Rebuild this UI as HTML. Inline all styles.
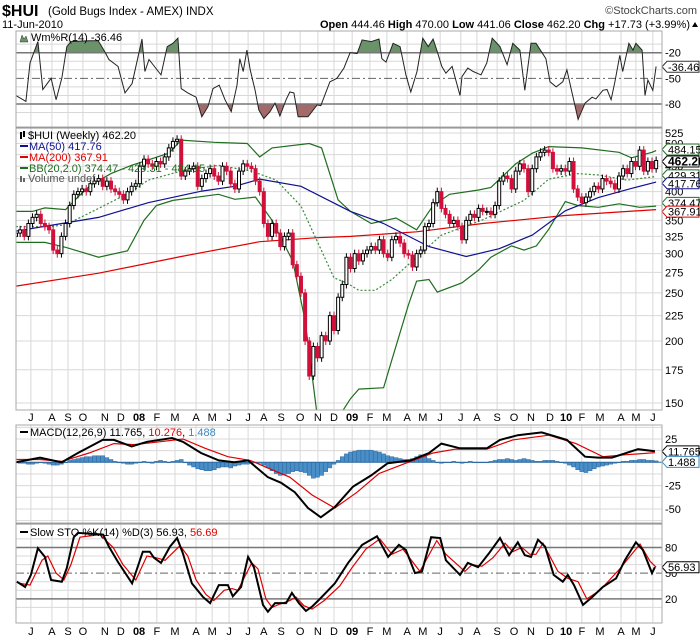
<!DOCTYPE html>
<html><head><meta charset="utf-8">
<style>
html,body{margin:0;padding:0;background:#fff;}
body{width:700px;height:639px;overflow:hidden;font-family:"Liberation Sans","DejaVu Sans",sans-serif;}
svg text{font-family:"Liberation Sans","DejaVu Sans",sans-serif;}
</style></head>
<body>
<svg id="chart" width="700" height="639" viewBox="0 0 700 639" xmlns="http://www.w3.org/2000/svg"></svg>
<script>
// ===== DATA =====
const monthLabels = ["J","A","S","O","N","D","08","F","M","A","M","J","J","A","S","O","N","D","09","F","M","A","M","J","J","A","S","O","N","D","10","F","M","A","M","J"];
const monthWeeks = [3.6,8.7,12.6,16.2,21.5,25.4,29.8,34.1,38.5,43.6,47.5,51.6,56.2,60,64.2,68.8,73.1,77,81.4,85.7,89.8,94.7,98.5,102.7,107.7,111.6,116.5,120.6,124.7,129.3,133.2,137,141.4,146.5,150.1,154.2];
const closes = [330,335,325,345,355,360,345,340,335,305,300,325,345,375,395,400,405,400,415,420,425,410,420,405,400,395,385,400,410,415,450,465,455,450,460,455,470,490,505,510,430,440,445,450,410,425,435,445,430,420,450,440,415,405,440,455,450,445,420,400,345,325,345,330,310,325,330,285,270,250,200,170,195,185,205,200,225,210,245,260,295,280,300,290,300,305,310,305,320,300,295,320,325,315,300,298,282,300,305,340,345,380,400,370,360,345,350,340,320,350,360,355,370,365,365,360,375,420,430,425,405,440,455,445,400,445,470,480,485,480,445,440,445,440,460,405,390,380,390,400,410,405,425,420,415,405,430,445,435,460,450,485,440,460,445,462.2];
const firstOpen = 325;
const ma50Weeks = [0,20,32,45,53,59,69,81,89,100,109,117,125,133,141,149,155];
const ma50Vals = [333,355,380,401,410,424,410,365,345,310,296,307,327,366,389,406,418];
const ma200Weeks = [0,20,40,59,73,81,97,113,133,155];
const ma200Vals = [258,274,296,317,323,325,332,345,358,368];
const bbUpWeeks = [0,4,7,12,15,18,23,28,37,40,48,56,59,62,71,74,78,81,86,92,97,101,105,112,115,121,125,129,137,146,149,154,155];
const bbUpVals = [365,365,371,368,390,412,435,452,478,508,503,500,470,490,500,490,385,365,345,354,335,375,395,403,408,455,478,493,490,480,468,480,484];
const bbLoWeeks = [0,7,12,20,27,31,34,38,49,53,58,62,67,70,73,76,78,81,83,89,91,95,97,100,102,108,112,115,120,123,126,129,133,136,141,146,151,155];
const bbLoVals = [316,316,309,295,304,350,375,384,395,386,390,350,290,220,140,120,140,153,160,161,183,236,264,266,251,262,278,295,311,305,311,336,382,375,372,378,372,374];
const bbMidWeeks = [0,8,12,20,28,32,40,49,57,63,69,74,77,80,83,87,91,97,103,113,123,129,136,141,148,155];
const bbMidVals = [340,340,343,370,400,422,440,452,440,422,374,304,268,262,253,253,266,295,327,351,384,424,435,432,422,429];
const wmWeeks = [0,2.4,3.4,5.3,6.5,8.5,9.7,11.1,12.3,13.3,17.7,19.9,21.5,22.5,24.7,26.4,28.1,30.5,31.2,32.2,35.1,36.6,38,39.2,40,41.6,43.6,45,46.5,47.7,49.2,50.6,52.1,53.5,54.2,55,55.9,56.7,57.9,58.8,60,61.5,62.7,63.9,65.4,66.3,67.3,68.3,70.7,72.9,73.8,76,77.7,79.4,80.9,82.6,83.8,86,87.9,88.6,89.6,91.3,93,94.4,95.6,97.1,98.5,99.8,101,101.9,103.1,104.1,105.6,107.5,108,109.4,110.7,112.6,114,115.3,117.2,118.9,120.3,122,123.2,124.7,125.9,128.3,129.3,130.8,132.4,133.4,134.4,136.1,137.8,139.5,140.4,142.1,143.1,144.1,145,146.2,146.9,148.4,149.4,150.1,151.6,152.3,153,154.2,155];
const wmVals = [-70,-77,-32,-7,-63,-50,-75,-50,-13,-7,-6,-6,-19,-28,-36,-67,-56,-4,-42,-28,-46,-13,-9,-3,-62,-67,-72,-95,-83,-62,-58,-75,-89,-58,-27,-42,-17,-40,-64,-87,-97,-89,-79,-94,-75,-66,-67,-95,-95,-81,-82,-54,-50,-38,-20,-21,-5,-7,-4,-27,-31,-9,-13,-46,-66,-42,-3,-13,-4,-17,-36,-44,-36,-70,-48,-38,-42,-46,-32,-3,-13,-34,-9,-17,-64,-9,-9,-27,-54,-60,-54,-40,-62,-98,-79,-72,-74,-64,-63,-75,-54,-23,-42,-9,-17,-9,-17,-70,-52,-64,-36];
const macdWeeks = [0,5.8,11.1,15,21,23.7,28,31.7,37.8,40.4,44.8,49.1,52.8,56.2,61,64.2,67.5,70.7,73.8,77.2,81.6,86,90,95.6,100,103,107.5,114,117.2,121.5,127.3,133.4,137.8,140.9,144.3,150.6,154.7];
const macdVals = [0,5,0,10,24,24,17,22,26,22,10,2,0,2,-16,-22,-32,-49,-59,-48,-26,-14,-1,2,10,20,15,15,24,29,32,24,6,5,5,14,11.8];
const sigWeeks = [0,5.8,11.1,17.7,23.7,28.6,32.9,40.4,45.8,51.3,56.7,62,66.3,71.7,77.2,82.6,87.9,94.4,101,106.3,114,120.3,129,135.6,142.1,147.4,154.7];
const sigVals = [3,3,1,10,20,19,21,25,15,6,2,-8,-16,-35,-49,-32,-12,-1,10,14,14,24,29,20,6,8,10.3];
const histVals = [0,-1,-1,-2,-2,-1,0,-1,-2,-3,-3,
 -2,0,2,3,4,5,6,6,7,7,7,5,3,
 1,0,-1,-2,-2,
 -1,0,1,0,-1,1,2,1,0,1,2,3,
 0,-3,-5,-7,-8,-9,-9,-8,-6,-5,-5,-6,-4,-3,-2,
 -2,-1,0,-1,-3,-6,
 -9,-12,-14,-13,-12,-10,-9,-10,-11,-14,-17,-16,-14,-10,-6,-2,
 2,6,9,11,12,13,13,13,13,12,11,9,7,6,5,4,
 3,3,4,6,8,7,4,2,0,-1,0,
 0,1,0,-1,0,1,0,0,0,0,
 1,2,3,3,4,3,2,3,4,3,2,1,1,2,2,2,
 1,0,-1,-3,
 -5,-8,-10,-11,-9,-7,-5,-4,-3,-2,-1,0,
 1,1,2,2,3,3,2,2,1.5];
const stoKWeeks = [0.2,2.2,3.6,5.3,7,8.5,11.1,12.3,14,15,21.1,22.5,24.7,28.1,30.7,32.4,33.4,35.1,37.3,39,40.4,42.6,45.3,47,49.1,51.3,52.5,54.5,56.2,57.6,59.8,61,62.7,65.4,66.8,68.5,70.2,71.7,73.8,77.2,80.4,83.8,87.4,90.1,92.7,94.4,96.6,98.3,100.5,102.7,104.1,107.5,109.4,111.9,114.5,117.2,119.4,121.5,123.2,124.7,126.4,128.1,130.2,132.4,133.6,135.1,137.3,139.5,142.1,145.3,147.4,150.1,151.8,154,154.7];
const stoKVals = [40,34,48,79,69,42,40,56,92,97,95,81,63,38,75,75,68,62,81,91,73,38,22,15,36,36,23,34,69,57,13,5,15,15,27,15,6,11,21,38,62,83,93,69,83,77,50,52,92,91,65,48,62,57,73,91,71,86,71,69,89,81,48,40,48,36,13,22,34,44,65,86,77,50,57];
const stoDWeeks = [1,3.4,6.3,7.7,9.7,11.6,13.3,15.5,20.3,23.5,25.9,29,31.7,33.9,36.1,39.7,41.6,43.6,46,47.9,50.4,52.3,53.7,57.1,58.6,60.5,62,63.9,66.3,67.8,69.7,71.7,74.6,78.4,81.3,84.7,88.1,91,93.7,97.8,101.9,104.1,108.7,110.4,112.8,115.5,118.4,120.3,122.5,124.4,125.9,127.6,131.2,133.6,136.1,138.2,141.4,146.2,151.1,153.5,155];
const stoDVals = [38,36,65,70,50,42,60,92,95,80,60,42,70,68,65,82,70,42,25,18,30,32,30,62,55,20,10,14,18,22,12,8,18,35,56,78,90,72,78,52,88,72,52,60,58,68,85,75,80,72,72,85,52,44,40,20,30,55,84,64,57];
const priceTicks = [525,500,450,400,350,325,300,275,250,225,200,175,150];
const priceGrid = [150,175,200,225,250,275,300,325,350,375,400,425,450,475,500,525];

// ===== AXES =====
const L=16, R=662;
const xW = i => 16 + 4.13*i;
const yP = p => 403 - 215.5*Math.log(p/150);
const yW = v => 35.6 - v*0.855;
const yM = v => 462.3 - v*0.933;
const yS = v => 616 - v*0.857;

const svg=document.getElementById('chart');
const NS='http://www.w3.org/2000/svg';
function mk(tag,attrs,parent){const e=document.createElementNS(NS,tag);for(const k in attrs)e.setAttribute(k,attrs[k]);(parent||svg).appendChild(e);return e;}
function txt(x,y,s,attrs,parent){const t=mk('text',Object.assign({x:x,y:y,'font-size':11,fill:'#000'},attrs||{}),parent);t.textContent=s;return t;}
function pts(ws,vs,fy){return ws.map((w,k)=>xW(w).toFixed(1)+','+fy(vs[k]).toFixed(1)).join(' ');}

const defs=mk('defs',{});
function clip(id,y0,y1){const c=mk('clipPath',{id:id},defs);mk('rect',{x:L,y:y0,width:R-L,height:y1-y0},c);}
clip('cW',31,127);clip('cP',128,410);clip('cM',425,523);clip('cS',524,623);
clip('cWup',31,yW(-20));clip('cWdn',yW(-80),127);

// Header
const hdr=mk('g',{});


let t=txt(2,16,'$HUI',{'font-size':16,'font-weight':'bold'},hdr);

t=txt(48,15,'(Gold Bugs Index - AMEX) INDX',{'font-size':11.5},hdr);

t=txt(2,28,'11-Jun-2010',{'font-size':11},hdr);

t=txt(697,14,'©StockCharts.com',{'font-size':11,'text-anchor':'end',fill:'#444'},hdr);

t=mk('text',{x:690,y:28,'font-size':11,'text-anchor':'end'},hdr);
t.innerHTML='<tspan font-weight="bold">Open</tspan> 444.46  <tspan font-weight="bold">High</tspan> 470.00  <tspan font-weight="bold">Low</tspan> 441.06  <tspan font-weight="bold">Close</tspan> 462.20  <tspan font-weight="bold">Chg</tspan> +17.73 (+3.99%)';

mk('path',{d:'M692,27 l3,-5 l3,5 z',fill:'#000'},hdr);

function vgrid(y0,y1,g){monthWeeks.forEach(w=>{mk('line',{x1:xW(w),x2:xW(w),y1:y0,y2:y1,stroke:'#d8d8d8','stroke-width':1},g);});}
function hgrid(ys,g){ys.forEach(y=>mk('line',{x1:L,x2:R,y1:y,y2:y,stroke:'#d8d8d8','stroke-width':1},g));}

// ===== Wm%R panel =====
const gW=mk('g',{});


vgrid(31,127,gW);
hgrid([-10,-30,-40,-60,-70,-90].map(yW),gW);
const wpts=pts(wmWeeks,wmVals,yW);
const x0=xW(wmWeeks[0]), x1=xW(wmWeeks[wmWeeks.length-1]);
mk('polygon',{points:x0+','+yW(-20)+' '+wpts+' '+x1+','+yW(-20),fill:'#6a936a','clip-path':'url(#cWup)'},gW);
mk('polygon',{points:x0+','+yW(-80)+' '+wpts+' '+x1+','+yW(-80),fill:'#a46a6a','clip-path':'url(#cWdn)'},gW);
mk('line',{x1:L,x2:R,y1:yW(-20),y2:yW(-20),stroke:'#777','stroke-width':1.5},gW);
mk('line',{x1:L,x2:R,y1:yW(-80),y2:yW(-80),stroke:'#777','stroke-width':1.5},gW);
mk('line',{x1:L,x2:R,y1:yW(-50),y2:yW(-50),stroke:'#666','stroke-width':1,'stroke-dasharray':'8,3,2,3'},gW);
const wl=mk('polyline',{points:wpts,fill:'none',stroke:'#222','stroke-width':1,'clip-path':'url(#cW)'},gW);

[[-20,'-20'],[-50,'-50'],[-80,'-80']].forEach(a=>txt(665,yW(a[0])+4,a[1],{},gW));
mk('path',{d:'M20,42 l2,-7 l2,4 l2,-3 l2,6 z',fill:'#6a936a',stroke:'#333','stroke-width':0.5},gW);
t=txt(31,41,'Wm%R(14) -36.46',{},gW);

// ===== Price panel =====
const gP=mk('g',{});


vgrid(128,410,gP);
hgrid(priceGrid.map(yP),gP);
priceTicks.forEach(p=>txt(665,yP(p)+4,String(p),{},gP));
const gPc=mk('g',{'clip-path':'url(#cP)'},gP);
function line(ws,vs,fy,col,w,dash,name,parent){const l=mk('polyline',{points:pts(ws,vs,fy),fill:'none',stroke:col,'stroke-width':w},parent);if(dash)l.setAttribute('stroke-dasharray',dash);return l;}
line(ma200Weeks,ma200Vals,yP,'#e00000',1.2,null,'ma200-line',gPc);
line(bbUpWeeks,bbUpVals,yP,'#1f6e1f',1.2,null,'bb-upper-band',gPc);
line(bbLoWeeks,bbLoVals,yP,'#1f6e1f',1.2,null,'bb-lower-band',gPc);
line(bbMidWeeks,bbMidVals,yP,'#3a8a3a',1.2,'2,2','bb-middle-band',gPc);
line(ma50Weeks,ma50Vals,yP,'#101090',1.2,null,'ma50-line',gPc);
closes.forEach((c,i)=>{
  const o = i===0?firstOpen:closes[i-1];
  const x=xW(i), yo=yP(o), yc=yP(c);
  const top=Math.min(yo,yc), bot=Math.max(yo,yc);
  const up=c>=o;
  const g=mk('g',{},gPc);
  
  
  mk('line',{x1:x,x2:x,y1:top-4,y2:bot+4,stroke:up?'#000':'#d0103a','stroke-width':1},g);
  mk('rect',{x:x-1.5,y:top,width:3,height:Math.max(1,bot-top),fill:up?'#fff':'#d0103a',stroke:up?'#000':'#d0103a','stroke-width':1},g);
});
// price legend
const lg=mk('g',{});


mk('rect',{x:20,y:132,width:2,height:7,fill:'#000'},lg);
mk('rect',{x:23,y:131,width:2,height:6,fill:'#000'},lg);
txt(28,139,'$HUI (Weekly) 462.20',{'font-size':11},lg);
mk('line',{x1:20,x2:28,y1:146,y2:146,stroke:'#101090','stroke-width':2},lg);
txt(29,150,'MA(50) 417.76',{fill:'#101090'},lg);
mk('line',{x1:20,x2:28,y1:157,y2:157,stroke:'#e00000','stroke-width':2},lg);
txt(29,161,'MA(200) 367.91',{fill:'#e00000'},lg);
mk('line',{x1:20,x2:28,y1:168,y2:168,stroke:'#1f6e1f','stroke-width':2},lg);
txt(29,172,'BB(20,2.0) 374.47 - 429.31 - 484.15',{fill:'#1f6e1f'},lg);
mk('rect',{x:20,y:176,width:2,height:6,fill:'#666'},lg);
mk('rect',{x:23,y:178,width:2,height:4,fill:'#666'},lg);
txt(28,182,'Volume undef',{fill:'#555'},lg);

function tag(y,label,col,bold,name){
  const g=mk('g',{});
  
  
  mk('path',{d:`M662,${y} l5,-5.5 h32 v11 h-32 z`,fill:'#fff',stroke:col,'stroke-width':1},g);
  txt(668,y+4,label,{'font-size':bold?12:11,'font-weight':bold?'bold':'normal',fill:'#000'},g);
}
tag(yW(-36.46),'-36.46','#333',false,'williams-r-value-tag');
tag(yP(374.47)-3,'374.47','#1f6e1f',false,'bb-lower-tag');
tag(yP(367.91)+2,'367.91','#e00000',false,'ma200-tag');
tag(yP(429.31)-1,'429.31','#1f6e1f',false,'bb-middle-tag');
tag(yP(417.76)+1,'417.76','#101090',false,'ma50-tag');
tag(yP(484.15)-1,'484.15','#1f6e1f',false,'bb-upper-tag');
tag(yP(462.2)+1,'462.20','#000',true,'close-price-tag');

function months(y,name){
  const g=mk('g',{});
  
  
  monthLabels.forEach((m,k)=>{txt(xW(monthWeeks[k]),y,m,{'text-anchor':'middle','font-size':11,'font-weight':/\d/.test(m)?'bold':'normal'},g);});
}
months(421,'x-axis-months-top');
months(635,'x-axis-months-bottom');

// ===== MACD =====
const gM=mk('g',{});


vgrid(425,523,gM);
hgrid([37.5,25,12.5,-12.5,-25,-37.5,-50,-62.5].map(yM),gM);
[[25,'25'],[-25,'-25'],[-50,'-50']].forEach(a=>txt(665,yM(a[0])+4,a[1],{},gM));
const gMc=mk('g',{'clip-path':'url(#cM)'},gM);
histVals.forEach((h,i)=>{
  const y0=yM(0), y1=yM(h);
  const b=mk('rect',{x:xW(i)-2,y:Math.min(y0,y1),width:4,height:Math.max(0.5,Math.abs(y1-y0)),fill:'#4a8ec8',stroke:'#2c6aa0','stroke-width':0.5},gMc);
  
  
});
mk('line',{x1:L,x2:R,y1:yM(0),y2:yM(0),stroke:'#2c6aa0','stroke-width':1},gMc);
line(sigWeeks,sigVals,yM,'#e00000',1.2,null,'macd-signal-line',gMc);
line(macdWeeks,macdVals,yM,'#000',2,null,'macd-line',gMc);
mk('line',{x1:20,x2:28,y1:432,y2:432,stroke:'#000','stroke-width':2},gM);
t=mk('text',{x:30,y:436,'font-size':11},gM);
t.innerHTML='MACD(12,26,9) 11.765, <tspan fill="#e00000">10.276</tspan>, <tspan fill="#3a8ac0">1.488</tspan>';

tag(yM(11.765),'11.765','#000',false,'macd-value-tag');
tag(yM(1.488)+1,'1.488','#3a8ac0',false,'macd-hist-tag');

// ===== Slow STO =====
const gS=mk('g',{});


vgrid(524,623,gS);
hgrid([10,30,40,60,70,90].map(yS),gS);
mk('line',{x1:L,x2:R,y1:yS(80),y2:yS(80),stroke:'#777','stroke-width':1.5},gS);
mk('line',{x1:L,x2:R,y1:yS(20),y2:yS(20),stroke:'#777','stroke-width':1.5},gS);
mk('line',{x1:L,x2:R,y1:yS(50),y2:yS(50),stroke:'#666','stroke-width':1,'stroke-dasharray':'8,3,2,3'},gS);
[[80,'80'],[50,'50'],[20,'20']].forEach(a=>txt(665,yS(a[0])+4,a[1],{},gS));
const gSc=mk('g',{'clip-path':'url(#cS)'},gS);
line(stoDWeeks,stoDVals,yS,'#e00000',1.2,null,'stoch-d-line',gSc);
line(stoKWeeks,stoKVals,yS,'#000',2,null,'stoch-k-line',gSc);
mk('line',{x1:20,x2:28,y1:532,y2:532,stroke:'#000','stroke-width':2},gS);
t=mk('text',{x:30,y:536,'font-size':11},gS);
t.innerHTML='Slow STO %K(14) %D(3) 56.93, <tspan fill="#e00000">56.69</tspan>';

tag(yS(56.93),'56.93','#000',false,'stoch-value-tag');

[[31,127],[128,410],[425,523],[524,623]].forEach(p=>{
  mk('rect',{x:L,y:p[0],width:R-L,height:p[1]-p[0],fill:'none',stroke:'#aaa','stroke-width':1});
});
mk('line',{x1:L,x2:R,y1:128,y2:128,stroke:'#888','stroke-width':1});
mk('line',{x1:L,x2:R,y1:524,y2:524,stroke:'#888','stroke-width':1});
</script>
</body></html>
